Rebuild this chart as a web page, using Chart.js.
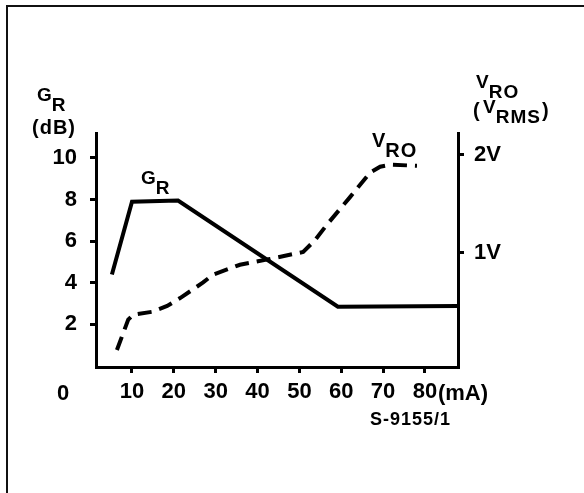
<!DOCTYPE html>
<html lang="en">
  <head>
    <meta charset="UTF-8" />
    <title>GR and VRO vs current</title>
    <script src="https://cdn.jsdelivr.net/npm/chart.js"></script>
    <style>
      body {
        margin: 0;
        background: #fff;
      }
      .frame {
        position: absolute;
        left: 6px;
        top: 5px;
        width: 578px;
        height: 488px;
        border-top: 2px solid #111;
        border-left: 2px solid #111;
      }
      canvas {
        position: absolute;
        left: 0;
        top: 0;
      }
    </style>
  </head>
  <body>
    <div class="frame"></div>
    <canvas id="chart" width="584" height="493"></canvas>

    <script>
      // G_R (dB) against current (mA)
      const grCurrent = [5.2, 10.0, 21.0, 59.2, 87.9];
      const grGain = [4.4, 7.9, 7.95, 2.85, 2.88];

      // V_RO (V rms) against current (mA)
      const vroCurrent = [6.4, 9.1, 10.3, 14.8, 18.4, 21.5, 27.0, 29.4, 35.8, 43.0, 50.9, 53.7, 56.6, 62.1, 66.9, 69.3, 71.7, 78.1];
      const vroVolts = [0.01, 0.32, 0.37, 0.4, 0.46, 0.54, 0.7, 0.78, 0.88, 0.94, 1.01, 1.13, 1.29, 1.57, 1.82, 1.88, 1.9, 1.89];

      const xTicks = [10, 20, 30, 40, 50, 60, 70, 80];
      const gainTicks = [2, 4, 6, 8, 10];
      const voltTicks = [1, 2];

      const FONT = "'Liberation Sans', Arial, sans-serif";

      function pts(xs, ys) {
        return xs.map((x, i) => ({ x: x, y: ys[i] }));
      }

      // main text with a lowered suffix, returns the x where it ends
      function sub(ctx, x, y, main, low, size) {
        ctx.font = "bold " + size + "px " + FONT;
        ctx.fillText(main, x, y);
        let w = ctx.measureText(main).width;
        ctx.fillText(low, x + w - 1, y + size * 0.5);
        return x + w - 1 + ctx.measureText(low).width;
      }

      const labels = {
        id: "labels",
        afterDraw(chart) {
          const ctx = chart.ctx;
          const xs = chart.scales.x;
          ctx.save();
          ctx.fillStyle = "#000";
          ctx.textBaseline = "alphabetic";
          ctx.textAlign = "left";
          ctx.letterSpacing = "1px";

          // left axis title
          sub(ctx, 37, 101, "G", "R", 19);
          ctx.font = "bold 20px " + FONT;
          ctx.fillText("(dB)", 32, 134);

          // right axis title
          sub(ctx, 476, 88, "V", "RO", 19);
          ctx.font = "bold 20px " + FONT;
          ctx.fillText("(", 473, 117);
          let end = sub(ctx, 483, 113, "V", "RMS", 19);
          ctx.font = "bold 20px " + FONT;
          ctx.fillText(")", end + 1, 117);

          // curve labels
          sub(ctx, 141, 184, "G", "R", 19);
          sub(ctx, 372, 147, "V", "RO", 20);

          // the zero of the gain axis sits on the current label row
          ctx.letterSpacing = "0px";
          ctx.font = "bold 22px " + FONT;
          ctx.textAlign = "center";
          ctx.fillText("0", 63, 400);
          ctx.textAlign = "left";
          ctx.fillText("(mA)", xs.getPixelForValue(80) + 13, 400);

          ctx.letterSpacing = "1px";
          ctx.font = "bold 18px " + FONT;
          ctx.fillText("S-9155/1", 370, 425);
          ctx.restore();
        },
      };

      const axisGrid = {
        display: true,
        drawOnChartArea: false,
        drawTicks: true,
        tickLength: 6,
        lineWidth: 3,
        color: "#000",
      };
      const axisBorder = { display: true, width: 3, color: "#000" };
      const tickFont = { family: FONT, size: 22, weight: "bold" };

      new Chart(document.getElementById("chart"), {
        type: "line",
        data: {
          datasets: [
            {
              label: "GR",
              data: pts(grCurrent, grGain),
              yAxisID: "y",
              borderColor: "#000",
              borderWidth: 4,
              pointRadius: 0,
              tension: 0,
              fill: false,
            },
            {
              label: "VRO",
              data: pts(vroCurrent, vroVolts),
              yAxisID: "y1",
              borderColor: "#000",
              borderWidth: 4,
              borderDash: [14, 8],
              pointRadius: 0,
              tension: 0,
              fill: false,
            },
          ],
        },
        options: {
          responsive: false,
          animation: false,
          layout: { padding: { top: 133, left: 0, right: 0, bottom: 0 } },
          plugins: { legend: { display: false }, tooltip: { enabled: false } },
          scales: {
            x: {
              type: "linear",
              min: 1.4,
              max: 87.9,
              grid: axisGrid,
              border: axisBorder,
              afterBuildTicks: (s) => {
                s.ticks = xTicks.map((v) => ({ value: v }));
              },
              afterFit: (s) => {
                s.height = 126;
              },
              ticks: { color: "#000", font: tickFont, padding: 6, maxRotation: 0 },
            },
            y: {
              position: "left",
              min: -0.05,
              max: 11.2,
              grid: axisGrid,
              border: axisBorder,
              afterBuildTicks: (s) => {
                s.ticks = gainTicks.map((v) => ({ value: v }));
              },
              afterFit: (s) => {
                s.width = 96;
              },
              ticks: { color: "#000", font: tickFont, padding: 13 },
            },
            y1: {
              position: "right",
              min: -0.163,
              max: 2.224,
              grid: axisGrid,
              border: axisBorder,
              afterBuildTicks: (s) => {
                s.ticks = voltTicks.map((v) => ({ value: v }));
              },
              afterFit: (s) => {
                s.width = 126;
              },
              ticks: {
                color: "#000",
                font: tickFont,
                padding: 10,
                callback: (v) => v + "V",
              },
            },
          },
        },
        plugins: [labels],
      });
    </script>
  </body>
</html>
